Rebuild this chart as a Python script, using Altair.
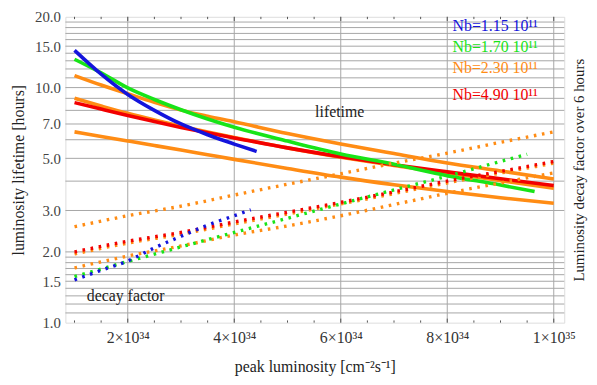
import altair as alt
import pandas as pd

# ---- data (x in units of 1e34 cm^-2 s^-1) ----
# lifetime curves (solid)
blue_life_x = [1.0, 1.5, 2.0, 2.5, 3.0, 3.5, 4.0, 4.42]
blue_life_y = [14.4, 11.4, 9.35, 8.0, 7.0, 6.3, 5.75, 5.35]
green_life_x = [1.0, 1.5, 2.0, 2.5, 3.0, 3.5, 4.0, 5.0, 6.0, 7.0, 8.0, 9.0, 9.64]
green_life_y = [13.2, 11.55, 9.97, 8.9, 8.05, 7.35, 6.78, 5.92, 5.22, 4.72, 4.22, 3.85, 3.61]
common_x = [1.0, 1.5, 2.0, 2.5, 3.0, 3.5, 4.0, 5.0, 6.0, 7.0, 8.0, 9.0, 10.0]
orange_top_life_y = [11.25, 10.25, 9.41, 8.65, 8.02, 7.55, 7.15, 6.38, 5.76, 5.24, 4.78, 4.42, 4.08]
orange_mid_life_y = [9.0, 8.35, 7.77, 7.28, 6.85, 6.47, 6.13, 5.54, 5.06, 4.66, 4.33, 4.02, 3.73]
orange_bot_life_y = [6.48, 6.2, 5.93, 5.67, 5.42, 5.18, 4.95, 4.53, 4.16, 3.86, 3.61, 3.4, 3.22]
red_life_y = [8.63, 8.1, 7.61, 7.17, 6.77, 6.42, 6.11, 5.54, 5.08, 4.7, 4.38, 4.09, 3.83]

# decay factor curves (dotted)
blue_decay_x = [1.0, 1.5, 2.0, 2.5, 3.0, 3.5, 4.0, 4.31]
blue_decay_y = [1.52, 1.67, 1.83, 2.08, 2.33, 2.6, 2.85, 3.02]
green_decay_x = [1.0, 2.0, 3.0, 4.0, 5.0, 6.0, 7.0, 8.0, 9.0, 9.5]
green_decay_y = [1.57, 1.82, 2.1, 2.42, 2.78, 3.2, 3.67, 4.2, 4.85, 5.2]
decay_x = [1.0, 2.0, 3.0, 4.0, 5.0, 6.0, 7.0, 8.0, 9.0, 10.0]
red_decay_y = [2.0, 2.22, 2.42, 2.68, 2.95, 3.25, 3.6, 4.0, 4.4, 4.85]
orange_top_decay_y = [2.56, 2.85, 3.13, 3.49, 3.88, 4.3, 4.77, 5.26, 5.85, 6.48]
orange_mid_decay_y = [1.96, 2.18, 2.38, 2.63, 2.9, 3.2, 3.54, 3.93, 4.33, 4.77]
orange_bot_decay_y = [1.71, 1.92, 2.12, 2.36, 2.58, 2.85, 3.18, 3.55, 3.93, 4.34]

# axis ticks / grid
y_label_vals = [1.0, 1.5, 2.0, 3.0, 5.0, 7.0, 10.0, 15.0, 20.0]
y_grid_vals = [1.1, 1.2, 1.3, 1.4, 1.5, 1.6, 1.7, 1.8, 1.9, 2.0, 3.0, 4.0,
               5.0, 6.0, 7.0, 8.0, 9.0, 10.0, 11.0, 12.0, 13.0, 14.0, 15.0,
               16.0, 17.0, 18.0, 19.0]
x_major = [2, 4, 6, 8, 10]
x_minor = [1.0, 1.5, 2.5, 3.0, 3.5, 4.5, 5.0, 5.5, 6.5, 7.0, 7.5, 8.5, 9.0, 9.5]

legend_labels = ["Nb=1.15 10¹¹", "Nb=1.70 10¹¹", "Nb=2.30 10¹¹", "Nb=4.90 10¹¹"]
legend_y = [18.3, 14.9, 12.1, 9.25]
legend_x = [8.1, 8.1, 8.1, 8.1]

BLUE = "#1414dc"
GREEN = "#18e418"
ORANGE = "#ff8c14"
RED = "#f20000"
legend_colors = [BLUE, GREEN, ORANGE, RED]

FONT = "Liberation Serif"

xscale = alt.Scale(domain=[0.829, 10.197], nice=False, zero=False)
yscale = alt.Scale(type="log", domain=[1, 20], nice=False)

xaxis = alt.Axis(values=x_major, title="peak luminosity [cm⁻²s⁻¹]",
                 labelExpr="datum.value == 10 ? '1×10³⁵' : datum.value + '×10³⁴'",
                 grid=False, ticks=False, domain=False, labelFlush=False,
                 labelOverlap=False, labelPadding=7, labelFontSize=16,
                 titleFontSize=16, titleFontWeight="normal", titlePadding=13,
                 labelFont=FONT, titleFont=FONT, labelColor="#333", titleColor="#222")
yaxis_left = alt.Axis(values=y_label_vals, format=".1f", title="luminosity lifetime [hours]",
                      grid=False, ticks=False, domain=False, labelFlush=False,
                      labelOverlap=False, labelPadding=5, labelFontSize=15,
                      titleFontSize=16, titleFontWeight="normal", titlePadding=8,
                      labelFont=FONT, titleFont=FONT, labelColor="#444", titleColor="#222")
yaxis_right = alt.Axis(orient="right", title="Luminosity decay factor over 6 hours",
                       labels=False, ticks=False, domain=False, grid=False,
                       titleAngle=270, titleFontSize=15, titleFontWeight="normal",
                       titlePadding=22, titleFont=FONT, titleColor="#222")

X = alt.X("x:Q", scale=xscale, axis=xaxis)
YL = alt.Y("y:Q", scale=yscale, axis=yaxis_left)
YR = alt.Y("y:Q", scale=yscale, axis=yaxis_right)


def df(xs, ys):
    return pd.DataFrame({"x": xs, "y": ys})


left_layers = []
# horizontal grid
left_layers.append(alt.Chart(pd.DataFrame({"y": y_grid_vals})).mark_rule(
    color="#a6a6a6", strokeWidth=1).encode(y=YL))
# vertical grid
left_layers.append(alt.Chart(pd.DataFrame({"x": x_major})).mark_rule(
    color="#a6a6a6", strokeWidth=1).encode(x=X))
# inward ticks (bottom and top)
tick_rows = pd.DataFrame({
    "x": x_minor + x_major + x_minor + x_major,
    "y": [1.0] * (len(x_minor) + len(x_major)) + [20.0] * (len(x_minor) + len(x_major)),
    "y2": [1.022] * len(x_minor) + [1.04] * len(x_major) + [19.55] * len(x_minor) + [19.2] * len(x_major),
})
left_layers.append(alt.Chart(tick_rows).mark_rule(color="#555", strokeWidth=1).encode(
    x=X, y=YL, y2="y2:Q"))

# solid lifetime lines
for xs, ys, c in [
    (common_x, orange_bot_life_y, ORANGE),
    (common_x, orange_top_life_y, ORANGE),
    (common_x, orange_mid_life_y, ORANGE),
    (common_x, red_life_y, RED),
    (green_life_x, green_life_y, GREEN),
    (blue_life_x, blue_life_y, BLUE),
]:
    left_layers.append(alt.Chart(df(xs, ys)).mark_line(
        color=c, strokeWidth=3.6, interpolate="monotone").encode(x=X, y=YL))

# legend texts
leg = pd.DataFrame({"x": legend_x, "y": legend_y, "t": legend_labels, "c": legend_colors})
left_layers.append(alt.Chart(leg).mark_text(align="left", baseline="middle", font=FONT,
                                            fontSize=16).encode(
    x=X, y=YL, text="t:N", color=alt.Color("c:N", scale=None)))

# annotations
ann = pd.DataFrame({"x": [5.98, 1.96], "y": [7.88, 1.293], "t": ["lifetime", "decay factor"]})
left_layers.append(alt.Chart(ann).mark_text(align="center", baseline="middle", font=FONT,
                                            fontSize=16, color="#222").encode(
    x=X, y=YL, text="t:N"))

dotted_layers = []
for xs, ys, c in [
    (decay_x, orange_top_decay_y, ORANGE),
    (decay_x, orange_bot_decay_y, ORANGE),
    (decay_x, orange_mid_decay_y, ORANGE),
    (decay_x, red_decay_y, RED),
    (green_decay_x, green_decay_y, GREEN),
    (blue_decay_x, blue_decay_y, BLUE),
]:
    dotted_layers.append(alt.Chart(df(xs, ys)).mark_line(
        color=c, strokeWidth=3.4, strokeDash=[2.6, 5.7], strokeCap="butt",
        interpolate="monotone").encode(x=X, y=YR))

chart = alt.layer(alt.layer(*left_layers), alt.layer(*dotted_layers)).resolve_scale(
    y="independent"
).properties(
    width=504, height=309,
    padding={"left": 58, "top": 7, "right": 25, "bottom": 53},
    autosize=alt.AutoSizeParams(type="none"),
    background="white",
).configure_view(stroke="#555", strokeWidth=1).configure(font=FONT)

chart.save("out.html", embed_options={"renderer": "svg", "actions": False})
